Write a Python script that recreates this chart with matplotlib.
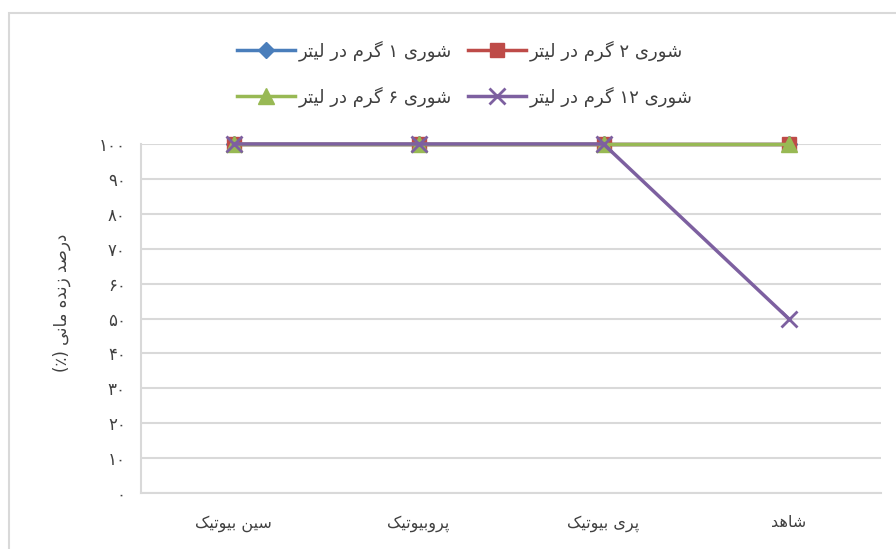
import matplotlib
matplotlib.use('Agg')
import matplotlib.pyplot as plt
from matplotlib.patches import Rectangle

plt.rcParams['font.family'] = ['DejaVu Sans']

categories = ['سین بیوتیک', 'پروبیوتیک', 'پری بیوتیک', 'شاهد']
salt_1 = [100, 100, 100, 100]
salt_2 = [100, 100, 100, 100]
salt_6 = [100, 100, 100, 100]
salt_12 = [100, 100, 100, 50]
labels = ['شوری ۱ گرم در لیتر', 'شوری ۲ گرم در لیتر',
          'شوری ۶ گرم در لیتر', 'شوری ۱۲ گرم در لیتر']
yticks = [0, 10, 20, 30, 40, 50, 60, 70, 80, 90, 100]
ylabel = 'درصد زنده مانی (٪)'

# contextual forms: isolated, final, initial, medial
FORMS = {
    'ا': ('\uFE8D', '\uFE8E', None, None),
    'ب': ('\uFE8F', '\uFE90', '\uFE91', '\uFE92'),
    'ت': ('\uFE95', '\uFE96', '\uFE97', '\uFE98'),
    'د': ('\uFEA9', '\uFEAA', None, None),
    'ر': ('\uFEAD', '\uFEAE', None, None),
    'ز': ('\uFEAF', '\uFEB0', None, None),
    'س': ('\uFEB1', '\uFEB2', '\uFEB3', '\uFEB4'),
    'ش': ('\uFEB5', '\uFEB6', '\uFEB7', '\uFEB8'),
    'ص': ('\uFEB9', '\uFEBA', '\uFEBB', '\uFEBC'),
    'ل': ('\uFEDD', '\uFEDE', '\uFEDF', '\uFEE0'),
    'م': ('\uFEE1', '\uFEE2', '\uFEE3', '\uFEE4'),
    'ن': ('\uFEE5', '\uFEE6', '\uFEE7', '\uFEE8'),
    'ه': ('\uFEE9', '\uFEEA', '\uFEEB', '\uFEEC'),
    'و': ('\uFEED', '\uFEEE', None, None),
    'پ': ('\uFB56', '\uFB57', '\uFB58', '\uFB59'),
    'ک': ('\uFB8E', '\uFB8F', '\uFB90', '\uFB91'),
    'گ': ('\uFB92', '\uFB93', '\uFB94', '\uFB95'),
    'ی': ('\uFBFC', '\uFBFD', '\uFBFE', '\uFBFF'),
}
MIRROR = {'(': ')', ')': '('}


def shape_word(w):
    out = []
    for i, c in enumerate(w):
        if c not in FORMS:
            out.append(MIRROR.get(c, c))
            continue
        prev = w[i - 1] if i > 0 else None
        nxt = w[i + 1] if i + 1 < len(w) else None
        join_prev = prev in FORMS and FORMS[prev][2] is not None
        join_next = nxt in FORMS and FORMS[c][2] is not None
        f = FORMS[c]
        if join_prev and join_next:
            out.append(f[3])
        elif join_prev:
            out.append(f[1])
        elif join_next:
            out.append(f[2])
        else:
            out.append(f[0])
    return ''.join(out[::-1])


def fa(text):
    words = []
    for w in text.split(' '):
        if all('\u06F0' <= c <= '\u06F9' for c in w):
            words.append(w)
        else:
            words.append(shape_word(w))
    return ' '.join(words[::-1])


def fa_num(n):
    return ''.join(chr(0x06F0 + int(d)) for d in str(n))


fig = plt.figure(figsize=(8.96, 5.49), dpi=100)
ax = fig.add_axes([141 / 896, 56 / 549, 740 / 896, 349 / 549])

x = list(range(len(categories)))
lw = 2.5
h1, = ax.plot(x, salt_1, color='#4A7EBB', lw=lw, marker='D', ms=8, clip_on=False)
h2, = ax.plot(x, salt_2, color='#BE4B48', lw=lw, marker='s', ms=10, clip_on=False)
h6, = ax.plot(x, salt_6, color='#98B954', lw=lw, marker='^', ms=11, clip_on=False)
h12, = ax.plot(x, salt_12, color='#7D60A0', lw=lw, marker='x', ms=11, mew=2, clip_on=False)

ax.set_xlim(-0.5, len(categories) - 0.5)
ax.set_ylim(0, 100)
ax.set_yticks(yticks)
ax.set_yticklabels([fa_num(v) for v in yticks], fontsize=12, color='#404040')
ax.set_xticks(x)
ax.set_xticklabels([fa(c) for c in categories], fontsize=11.5, color='#404040')
ax.tick_params(axis='y', length=0, pad=11)
ax.tick_params(axis='x', length=0, pad=16)
ax.grid(axis='y', color='#D9D9D9', lw=1.5)
ax.set_axisbelow(True)
for s in ['top', 'right']:
    ax.spines[s].set_visible(False)
for s in ['left', 'bottom']:
    ax.spines[s].set_color('#D9D9D9')
    ax.spines[s].set_linewidth(1.5)

fig.text(62 / 896, 1 - 303 / 549, fa(ylabel), rotation=90, fontsize=12,
         ha='center', va='center', color='#404040')

handles = [h1, h6, h2, h12]
leg_labels = [fa(labels[0]), fa(labels[2]), fa(labels[1]), fa(labels[3])]
fig.legend(handles, leg_labels, ncol=2, loc='center', bbox_to_anchor=(465 / 896, 1 - 74 / 549),
           frameon=False, fontsize=13, handlelength=3.2, handletextpad=0.2,
           columnspacing=0.9, labelspacing=1.4, labelcolor='#404040')

fig.patches.append(Rectangle((9 / 896, -0.1), 1.2, 1.1 - 13 / 549, transform=fig.transFigure,
                             fill=False, edgecolor='#D9D9D9', lw=1.5))

fig.savefig('out.png', dpi=100)
